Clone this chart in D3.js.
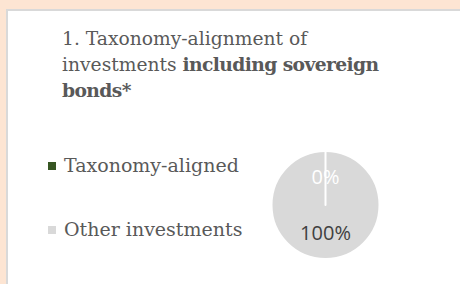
<!DOCTYPE html>
<html>
<head>
<meta charset="utf-8">
<script src="https://cdn.jsdelivr.net/npm/d3@7"></script>
<style>
  html, body { margin: 0; padding: 0; background: #FDE5D3; }
  svg { display: block; }
</style>
</head>
<body>
<svg id="chart" width="460" height="284"></svg>
<script>
const categories = ["Taxonomy-aligned", "Other investments"];
const values = [0, 100];
const labels = ["0%", "100%"];
const colors = ["#375623", "#D9D9D9"];
const titleLines = [
  [{t: "1. Taxonomy-alignment of", b: false}],
  [{t: "investments ", b: false}, {t: "including sovereign", b: true}],
  [{t: "bonds*", b: true}]
];

const svg = d3.select("#chart");
svg.append("rect").attr("x", 0).attr("y", 0).attr("width", 460).attr("height", 284).attr("fill", "#FDE5D3");
svg.append("rect").attr("x", 7).attr("y", 10).attr("width", 500).attr("height", 300)
  .attr("fill", "#FFFFFF").attr("stroke", "#D9D9D9").attr("stroke-width", 2);

// Title
const title = svg.append("text").attr("font-family", "'DejaVu Serif', serif")
  .attr("font-size", 18.7).attr("fill", "#595959");
titleLines.forEach((line, i) => {
  line.forEach((seg, j) => {
    const ts = title.append("tspan").text(seg.t).attr("font-weight", seg.b ? "bold" : "normal");
    if (seg.b) ts.attr("letter-spacing", "-0.6px");
    if (j === 0) ts.attr("x", 62).attr("y", 45 + i * 26);
  });
});

// Legend
const legendY = d3.scalePoint().domain(categories).range([172, 236]);
const lg = svg.append("g");
categories.forEach((c, i) => {
  const y = legendY(c);
  lg.append("rect").attr("x", 48).attr("y", y - 10).attr("width", 8).attr("height", 8).attr("fill", colors[i]);
  lg.append("text").attr("x", 64).attr("y", y).attr("font-family", "'DejaVu Serif', serif")
    .attr("font-size", 19).attr("fill", "#595959").text(c);
});

// Pie
const cx = 325.5, cy = 205, r = 54;
const pie = d3.pie().sort(null).value(d => d);
const arcs = pie(values);
const arc = d3.arc().innerRadius(0).outerRadius(r);
const labelArc = d3.arc().innerRadius(28).outerRadius(28);
const g = svg.append("g").attr("transform", `translate(${cx},${cy})`);
const order = arcs.map((a, i) => i).sort((a, b) => values[b] - values[a]);
order.forEach(i => {
  g.append("path").attr("d", arc(arcs[i])).attr("fill", colors[i])
    .attr("stroke", "#FFFFFF").attr("stroke-width", 2).attr("stroke-linejoin", "round").attr("stroke-linecap", "round");
});
arcs.forEach((a, i) => {
  const [lx, ly] = labelArc.centroid(a);
  g.append("text").attr("x", lx).attr("y", ly).attr("text-anchor", "middle").attr("dy", "0.35em")
    .attr("font-family", "'Open Sans', sans-serif").attr("font-size", 20)
    .attr("fill", values[i] === 0 ? "#FFFFFF" : "#404040").text(labels[i]);
});
</script>
</body>
</html>
